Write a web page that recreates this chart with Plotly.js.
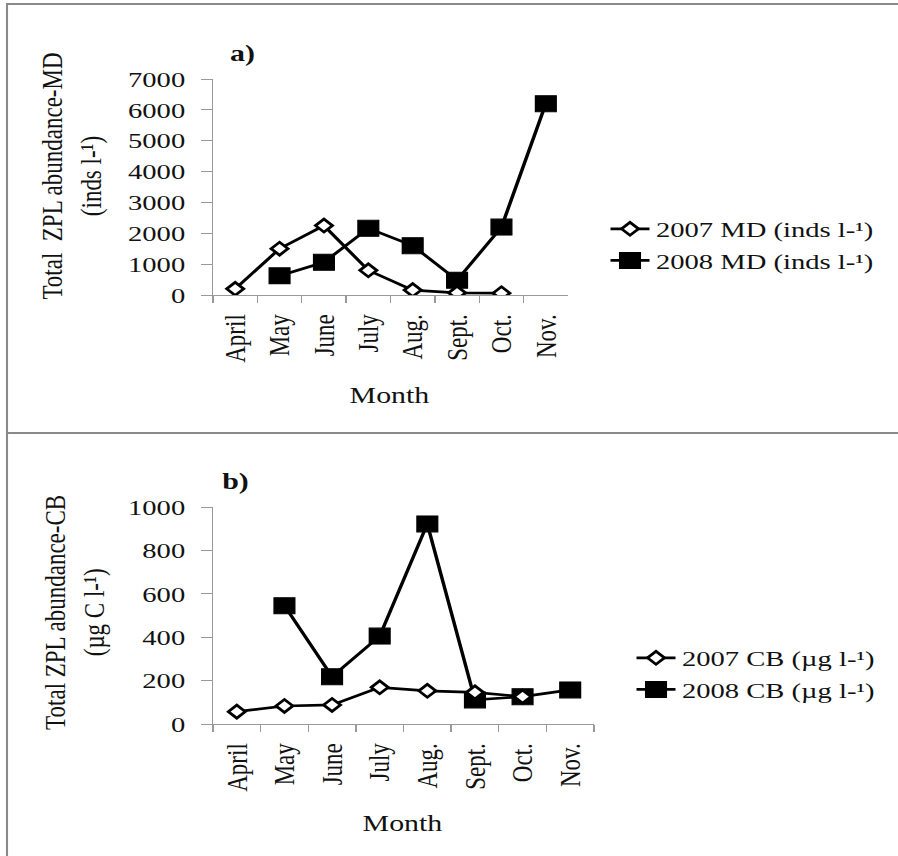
<!DOCTYPE html>
<html>
<head>
<meta charset="utf-8">
<script src="https://cdn.plot.ly/plotly-3.0.1.min.js"></script>
<style>
  html, body { margin: 0; padding: 0; background: #fff; overflow: hidden; }
  #plot { width: 691px; height: 856px; transform: scaleX(1.2996); transform-origin: 0 0; }
</style>
</head>
<body>
<div id="plot"></div>
<script>
// ---- data ----
const months = ["April", "May", "June", "July", "Aug.", "Sept.", "Oct.", "Nov."];
const md2007 = [200, 1500, 2250, 800, 160, 70, 60, null];
const md2008 = [null, 620, 1060, 2160, 1600, 480, 2200, 6200];
const cb2007 = [57, 83, 88, 169, 153, 146, 126, null];
const cb2008 = [null, 545, 218, 405, 922, 111, 126, 157];
const yTicksMD = [0, 1000, 2000, 3000, 4000, 5000, 6000, 7000];
const yTicksCB = [0, 200, 400, 600, 800, 1000];
const names = {
  md2007: "2007 MD (inds l-¹)",
  md2008: "2008 MD (inds l-¹)",
  cb2007: "2007 CB (µg l-¹)",
  cb2008: "2008 CB (µg l-¹)"
};

const FONT = "Liberation Serif, Times New Roman, serif";
const W = 898, H = 856;
const px = v => v / W;          // horizontal pixel -> paper fraction
const py = v => (H - v) / H;    // vertical pixel -> paper fraction

const lineStyle = {color: "#000", width: 2.7};
const diamond = {symbol: "diamond", size: 10, color: "#fff", line: {color: "#000", width: 2.5}};
const square = {symbol: "square", size: 16, color: "#000", line: {color: "#000", width: 1}};

const traces = [
  {x: months, y: md2008, name: names.md2008, type: "scatter", mode: "lines+markers",
   line: lineStyle, marker: square, xaxis: "x", yaxis: "y", legend: "legend",
   legendgroup: "g2", legendrank: 2},
  {x: months, y: md2007, name: names.md2007, type: "scatter", mode: "lines+markers",
   line: lineStyle, marker: diamond, xaxis: "x", yaxis: "y", legend: "legend",
   legendgroup: "g1", legendrank: 1},
  {x: months, y: cb2008, name: names.cb2008, type: "scatter", mode: "lines+markers",
   line: lineStyle, marker: square, xaxis: "x2", yaxis: "y2", legend: "legend2",
   legendgroup: "g4", legendrank: 2},
  {x: months, y: cb2007, name: names.cb2007, type: "scatter", mode: "lines+markers",
   line: lineStyle, marker: diamond, xaxis: "x2", yaxis: "y2", legend: "legend2",
   legendgroup: "g3", legendrank: 1}
];

const axisCol = "#999";
const xCommon = {
  type: "category", categoryorder: "array", categoryarray: months,
  range: [-0.5, 7.5], tickson: "boundaries", ticks: "outside", ticklen: 7,
  tickcolor: axisCol, showline: true, linecolor: axisCol, linewidth: 1,
  showgrid: false, zeroline: false, tickangle: -90, ticklabelstandoff: 9,
  tickfont: {family: FONT, size: 23, color: "#111"}, fixedrange: true
};
const yCommon = {
  ticks: "outside", ticklen: 8, tickcolor: axisCol, showline: true,
  linecolor: axisCol, linewidth: 1, showgrid: false, zeroline: false,
  tickfont: {family: FONT, size: 22, color: "#111"}, fixedrange: true,
  ticklabelstandoff: 8
};

const legendCommon = {
  font: {family: FONT, size: 22, color: "#111"}, bgcolor: "rgba(0,0,0,0)",
  tracegroupgap: 13, traceorder: "normal", yanchor: "middle", xanchor: "left",
  itemclick: false, itemdoubleclick: false
};

const annFont = {family: FONT, size: 23, color: "#111"};
const ann = (text, x, y, extra) => Object.assign({
  text: text, xref: "paper", yref: "paper", x: px(x), y: py(y),
  xanchor: "center", yanchor: "middle", showarrow: false, font: annFont
}, extra || {});

const gray = "#8a8a8a";
const layout = {
  width: 691, height: 856,
  margin: {l: 0, r: 0, t: 0, b: 0},
  paper_bgcolor: "#fff", plot_bgcolor: "#fff",
  font: {family: FONT, color: "#111"},
  showlegend: true,
  xaxis: Object.assign({}, xCommon, {domain: [px(213), px(568)], anchor: "y"}),
  yaxis: Object.assign({}, yCommon, {domain: [py(295), py(79)], anchor: "x",
    range: [0, 7000], tickvals: yTicksMD}),
  xaxis2: Object.assign({}, xCommon, {domain: [px(213), px(594)], anchor: "y2"}),
  yaxis2: Object.assign({}, yCommon, {domain: [py(724), py(507)], anchor: "x2",
    range: [0, 1000], tickvals: yTicksCB}),
  legend: Object.assign({}, legendCommon, {x: px(604), y: py(245)}),
  legend2: Object.assign({}, legendCommon, {x: px(630), y: py(674)}),
  annotations: [
    ann("<b>a)</b>", 242, 54),
    ann("<b>b)</b>", 235, 481),
    ann("Total  ZPL abundance-MD<br>(inds l-¹)", 71, 176, {textangle: -90}),
    ann("Total ZPL abundance-CB<br>(µg C l-¹)", 74, 612, {textangle: -90}),
    ann("Month", 390, 395),
    ann("Month", 403, 823)
  ],
  shapes: [
    {type: "line", xref: "paper", yref: "paper", x0: px(6), x1: 1, y0: py(4), y1: py(4),
     line: {color: gray, width: 2}},
    {type: "line", xref: "paper", yref: "paper", x0: px(7), x1: px(7), y0: 0, y1: py(3),
     line: {color: gray, width: 1.6}},
    {type: "line", xref: "paper", yref: "paper", x0: px(7), x1: 1, y0: py(433), y1: py(433),
     line: {color: gray, width: 2}}
  ]
};

Plotly.newPlot("plot", traces, layout, {displayModeBar: false, staticPlot: true});
</script>
</body>
</html>
